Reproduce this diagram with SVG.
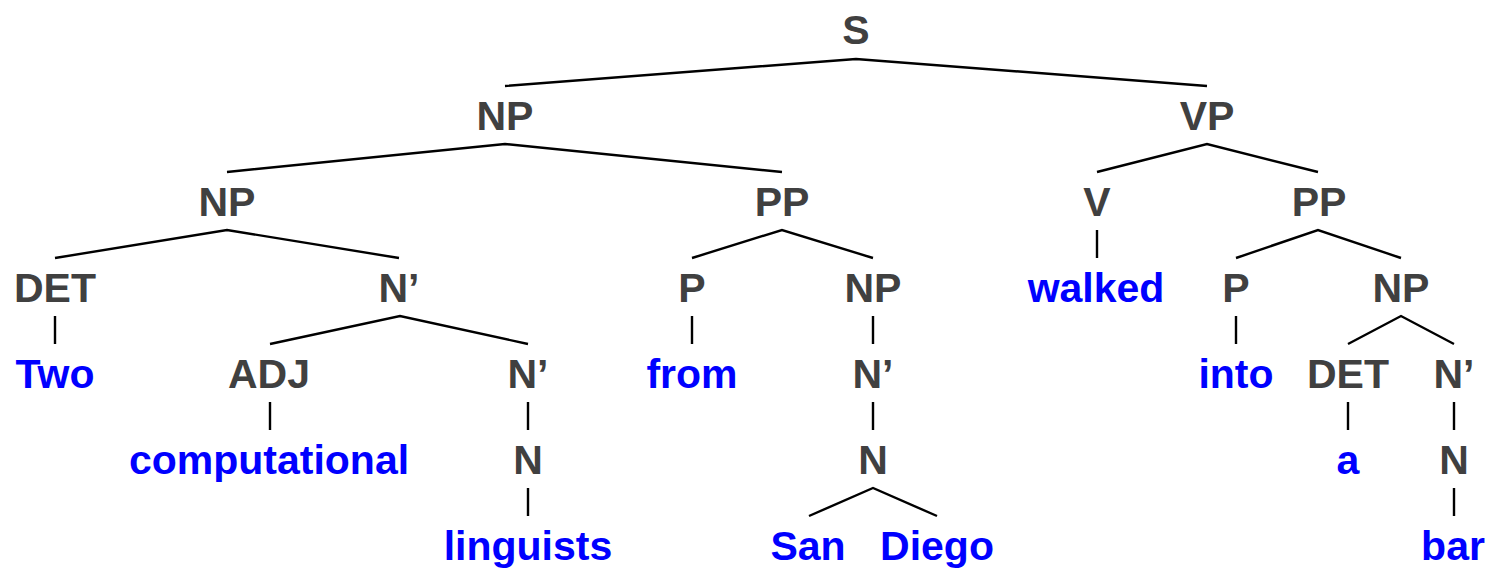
<svg xmlns="http://www.w3.org/2000/svg" width="1500" height="582" viewBox="0 0 1500 582">
<style>
text{font-family:"Liberation Sans",Arial,sans-serif;font-weight:bold;font-size:41px;text-anchor:middle}
.c{fill:#404040}
.w{fill:#0000ff}
.e{fill:none;stroke:#000;stroke-width:2.4;stroke-linejoin:miter}
</style>
<rect width="1500" height="582" fill="#fff"/>
<g id="connectors">
<polyline class="e" points="505,86 856,59 1207,86"/>
<polyline class="e" points="227,172 505,144 782,172"/>
<polyline class="e" points="1097,172 1207,144 1318,172"/>
<polyline class="e" points="55,258 227,230 399,258"/>
<polyline class="e" points="692,258 782,230 873,258"/>
<polyline class="e" points="1097,230 1097,258"/>
<polyline class="e" points="1236,258 1318,230 1401,258"/>
<polyline class="e" points="55,316 55,344"/>
<polyline class="e" points="270,344 400,316 528,344"/>
<polyline class="e" points="692,316 692,344"/>
<polyline class="e" points="873,316 873,344"/>
<polyline class="e" points="1236,316 1236,344"/>
<polyline class="e" points="1348,344 1401,316 1454,344"/>
<polyline class="e" points="270,402 270,430"/>
<polyline class="e" points="528,402 528,430"/>
<polyline class="e" points="873,402 873,430"/>
<polyline class="e" points="1348,402 1348,430"/>
<polyline class="e" points="1454,402 1454,430"/>
<polyline class="e" points="528,488 528,516"/>
<polyline class="e" points="809,516 873,488 937,516"/>
<polyline class="e" points="1454,488 1454,516"/>
</g>
<g id="n-S"><text class="c" x="856" y="44">S</text></g>
<g id="n-NP1"><text class="c" x="505" y="130">NP</text></g>
<g id="n-VP"><text class="c" x="1207" y="130">VP</text></g>
<g id="n-NP2"><text class="c" x="227" y="216">NP</text></g>
<g id="n-PP1"><text class="c" x="782" y="216">PP</text></g>
<g id="n-V"><text class="c" x="1097" y="216">V</text></g>
<g id="n-PP2"><text class="c" x="1319" y="216">PP</text></g>
<g id="n-DET1"><text class="c" x="55" y="302">DET</text></g>
<g id="n-Nbar1"><text class="c" x="399" y="302">N’</text></g>
<g id="n-P1"><text class="c" x="692" y="302">P</text></g>
<g id="n-NP3"><text class="c" x="873" y="302">NP</text></g>
<g id="n-walked"><text class="w" x="1096" y="302">walked</text></g>
<g id="n-P2"><text class="c" x="1236" y="302">P</text></g>
<g id="n-NP4"><text class="c" x="1401" y="302">NP</text></g>
<g id="n-Two"><text class="w" x="55" y="388">Two</text></g>
<g id="n-ADJ"><text class="c" x="269" y="388">ADJ</text></g>
<g id="n-Nbar2"><text class="c" x="528" y="388">N’</text></g>
<g id="n-from"><text class="w" x="692" y="388">from</text></g>
<g id="n-Nbar3"><text class="c" x="873" y="388">N’</text></g>
<g id="n-into"><text class="w" x="1236" y="388">into</text></g>
<g id="n-DET2"><text class="c" x="1348" y="388">DET</text></g>
<g id="n-Nbar4"><text class="c" x="1454" y="388">N’</text></g>
<g id="n-computational"><text class="w" x="269" y="474">computational</text></g>
<g id="n-N1"><text class="c" x="528" y="474">N</text></g>
<g id="n-N2"><text class="c" x="873" y="474">N</text></g>
<g id="n-a"><text class="w" x="1348" y="474">a</text></g>
<g id="n-N3"><text class="c" x="1454" y="474">N</text></g>
<g id="n-linguists"><text class="w" x="528" y="560">linguists</text></g>
<g id="n-San"><text class="w" x="808" y="560">San</text></g>
<g id="n-Diego"><text class="w" x="937" y="560">Diego</text></g>
<g id="n-bar"><text class="w" x="1453" y="560">bar</text></g>
</svg>
